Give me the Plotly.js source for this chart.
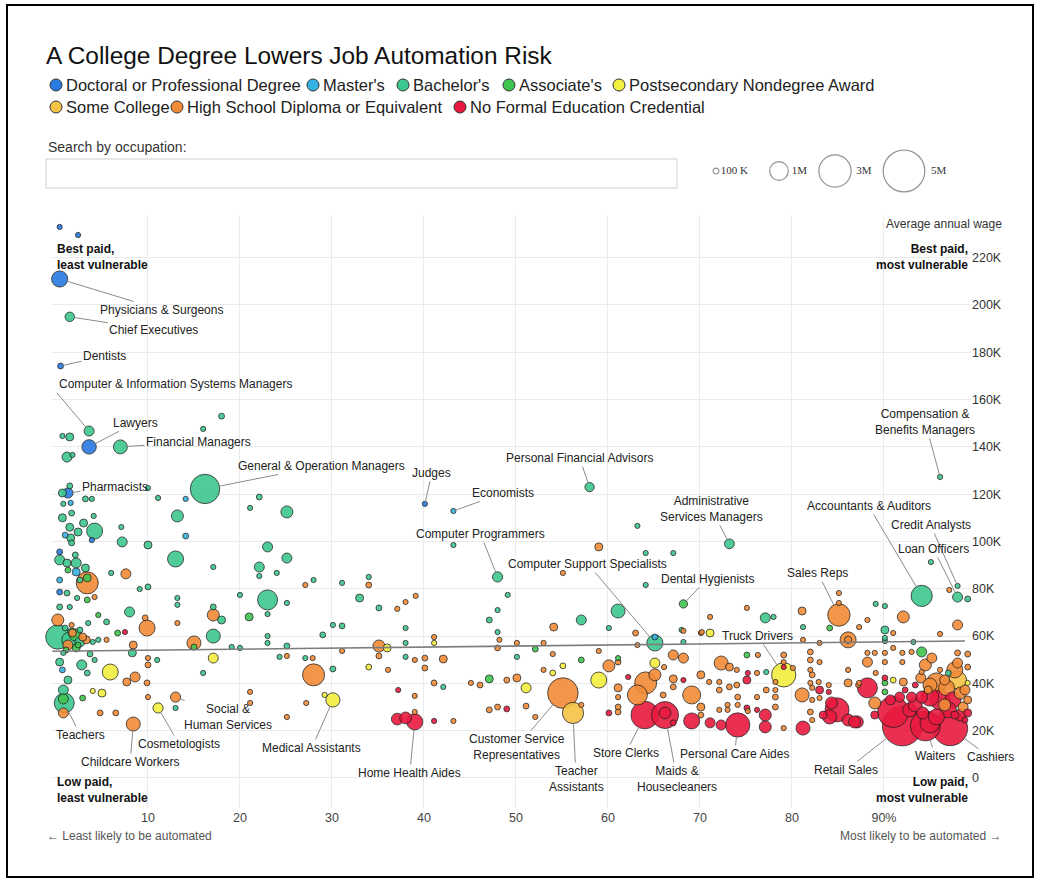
<!DOCTYPE html>
<html>
<head>
<meta charset="utf-8">
<script src="https://cdn.plot.ly/plotly-3.0.1.min.js"></script>
<style>
html,body{margin:0;padding:0;background:#fff;}
#chart{width:1047px;height:881px;}
</style>
</head>
<body>
<div id="chart"></div>
<script>
// ---------- education categories ----------
const eduLabels = ["Doctoral or Professional Degree", "Master's", "Bachelor's", "Associate's",
  "Postsecondary Nondegree Award", "Some College", "High School Diploma or Equivalent",
  "No Formal Education Credential"];
const eduColors = ['#2a7ae2', '#36b1e3', '#3ec78e', '#3fc54f', '#f3ef3f', '#f5c345', '#f28b37', '#e8193f'];

// ---------- unlabelled occupations (risk %, wage $K, employment K) ----------
const doctoralRisk = [0.4, 2.4, 3.9, 0.4, 0.4];
const doctoralWage = [233, 229.6, 100.6, 95.6, 78.6];
const doctoralEmp  = [20, 20, 46, 100, 100];

const mastersRisk = [1.6, 1.0, 2.2, 0.4, 0.7, 14.1, 14.1, 65.1];
const mastersWage = [116.3, 102.7, 87.1, 83.7, 45.7, 118, 102.3, 59.6];
const mastersEmp  = [25, 100, 185, 100, 100, 25, 100, 100];

const bachelorsRisk = [
  1.5,0.7,3.2,3.9,0.8,0.7,1.7,1.5,4.1,3.0, 4.2,1.6,2.4,1.7,0.4,1.2,2.1,2.2,3.2,2.6,
  1.2,2.3,0.4,1.5,5.5,3.5,0.2,1.5,2.6,1.7, 2.6,1.0,4.6,4.0,0.8,3.7,4.2,0.4,2.8,3.4, 1.3,0.8,
  18,16,0.7,1.5,1.2,1.8,
  10,11.1,22.1,21.1,25.1,13.2,7.1,7.2,10,23, 13,25.1,22.1,22.1,17.1,24,6.0,9.1,10,13.2,
  13.2,17.1,23,23,20,25.1,8.0,18,17.1,19.1, 20,23,23,25.1,29,8.3,11,16,24.3,30.1, 27.1,13,
  63.2,43.2,64.1,67.1,64.1,28,31.1,34,33,35.1, 30.1,31.1,38,47.1,48,48,49.1,57.1,61.1,60.1, 68.2,38,38,42.1,50.1,
  77.2,77.1,78,68,81.2,89.1,90.1,90.1,90.1,93.2, 90.1,99.1,95.1,97];
const bachelorsWage = [
  123.5,120.5,118,118,115.9,110,112,106,110.8,107.8, 104.4,101.5,104,99.4,92.2,90.9,94.3,90.9,88.8,83.7,
  78.2,76.1,72.3,72.3,66,65.5,59.6,58.4,57.5,61.7, 62.6,63.4,58.4,57.5,52.9,52.4,49.9,49,47.8,44.4, 41.4,37.2,
  153,147.6,144.6,144.2,135.7,136.6,
  122.6,118.4,118.8,114.2,112.5,110.8,106.1,99.8,98.5,97.7, 92.6,93,89.2,85.4,89.2,86.7,86.7,79.9,80.8,76.1,
  73.2,72.3,75.3,69.3,77.4,74,70.2,66.8,60,55.4, 55,57.1,60,55.8,60.5,52.9,49.9,44.4,51.2,46.1, 50.7,29.6,
  106.6,98.5,95.1,95.1,81.6,83.7,82.5,85,76.1,71.9, 64.7,64.3,63.4,66.8,71,61.7,77.4,66.8,70.6,63.4, 57.5,57.1,51.2,38.5,51.2,
  44.8,67.7,68.1,62.6,63.8,73.6,72.7,62.6,59.2,57.5, 57.9,75.7,91.3,44.4];
const bachelorsEmp = [
  100,185,100,46,25,185,100,185,25,185, 740,185,185,100,290,185,100,290,185,100,
  100,46,100,25,100,25,1700,740,289,185, 100,100,46,46,46,100,46,185,289,100, 185,289,
  100,46,25,185,289,25,
  25,25,100,25,416,416,25,289,185,289, 740,289,289,25,46,25,25,25,100,25,
  46,100,1156,25,25,25,289,185,567,46, 46,46,25,100,100,185,46,25,25,100, 46,25,
  25,25,25,25,25,25,25,25,185,100, 25,100,25,100,25,25,20,289,567,25, 30,46,46,25,25,
  25,289,25,25,46,46,25,185,25,46, 46,100,25,100];

const associatesRisk = [1.3,3.4,3.4,4.6,2.1,2.2,2.4,1.1,2.9,0.8, 21,6.7,15, 47.1,52.1,57.1, 61.1,75.1,84.1,94.1,90.1,90.1];
const associatesWage = [87.9,84.6,75.3,68.9,60.5,55,56.2,54.1,33.8,33.4, 68.1,61.3,55.4, 41.9,54.5,49.9, 50.7,52,63.4,53.3,40.2,36.4];
const associatesEmp  = [100,185,100,25,416,185,100,100,100,289, 185,100,100, 185,100,100, 25,100,100,289,100,100];

const postsecRisk = [5.0,4.0,5.9,17.1,29.2,36,41.1,34,51.1,55.1,54,59,65.1,71.1,91,99.1];
const postsecWage = [35.9,36.8,44.8,50.7,35.1,55,57.1,46.9,38.1,47.4,44.4,41.4,48.6,61.3,41.4,40.2];
const postsecEmp  = [185,25,740,289,25,185,46,100,289,100,100,740,289,185,100,25];

const someCollegeRisk = [98];
const someCollegeWage = [41.4];
const someCollegeEmp  = [936];

const highSchoolRisk = [
  3.4,4.2,0.2,1.7,1.3,3.3,1.8,2.9,5.5,0.8,4.8,6.5,
  7.6,9.7,9.9,13.2,17.1,8.4,15,7.7,8.6,9.9,10,10,25.1,28,27.9,10,21.1,21.1,25.1,27.2,
  59,55.1,27.1,34,37.1,38,39.1,41.1,54.1,63, 68.2,35.1,35.1,31.1,40.1,42.1,39,36.1,40.1,41.1,
  39,39,43.2,45.1,46.1,49,50.1,48,53,50.1, 48.2,54,53,57.1,47.1,48,51.1,52.1,
  60.1,61.1,59,61.1,61.1,61.1,61.1,64.1,63.2,65.1, 66.1,67.1,68.2,67.1,67.1,66,69.1,63.2,70.1,76.3,
  72.3,73.2,70.1,71,72.1,72.1,74,74,76.2,79.1, 79.1,77.2,78.2,78.2,76.2,78.2,74.1,74.1,73,70.1,
  70.1,72.1,73,75.2,78.2,80.1,81.1,82,82,82, 82,83,82.9,83,84,82,82.2,86.1,86.1,79.1,
  73.2,75.1,71.1,70.2,83,81.2,81.1,85.1,85.1,87.3, 88.2,92.1,91,96.1,98,97.1,95.2,93,91,88.2,
  88.2,89,90.1,90.1,92,92,98,99.1,98,99.1, 96.1,86.1,86.1,87.2,92.1,94,94.1,95.7,96.8,98.3,
  98.6,99.1,89,82.2,82.2,82.2,87.3,89.1,94.8,96.6, 97.7,95,96.6,94.5,98.8];
const highSchoolWage = [
  82.5,76.5,66.8,64.7,56.2,58.4,61.3,59.6,58.4,27.5,27.5,27.5,
  86.3,67.7,63.4,65.5,68.9,56.2,57.1,40.6,42.7,40.2,47.8,50.7,51.6,43.6,50.7,34.2,36.4,31.7,25.8,31.7,
  97.7,86.7,81.6,81.6,71.5,74.4,77,59.6,63.8,61.3, 62.2,55.8,51.6,53.7,50.7,50.3,49.9,45.7,46.5,40.2,
  34.7,27.9,24.1,40.2,39.3,41.4,42.3,55,57.1,57.1, 58.4,52.4,45.7,30.9,28.8,30,30.4,25.8,
  47.4,49,53.7,38.1,34.2,30,27.9,40.2,35.1,43.6, 46.9,52,50.7,41.9,38.5,35.1,35.1,56.2,61.3,52,
  48.6,46.9,43.6,40.6,40.6,37.2,45.7,39.3,44.4,52, 49,37.2,37.2,40.6,34.2,34.2,30.9,34.2,30.9,30,
  26.6,28.8,28.8,28.3,30,46.5,35.1,40.2,45.7,49.9, 53.3,49,40.6,33.8,39.3,27.9,24.5,58.4,58.4,21.1,
  38.5,71.9,68.1,61.7,57.1,58.4,70.6,74,78.2,63.8, 66.8,68.1,61.3,60.9,64.7,79.5,50.7,53.3,55,49,
  52.9,52.9,52.9,49,52.9,49,52.9,52.4,48.6,46.9, 45.7,45.7,40.2,39.3,40.6,42.3,44.8,40.2,38.1,35.9,
  30,33,31.7,43.6,38.1,33,40.2,44.4,37.2,41.4, 45.7,39.3,30.9,47.8,37.2];
const highSchoolEmp = [
  1400,25,416,25,289,185,185,185,46,289,100,100,
  289,100,740,25,416,185,567,185,289,100,100,25,25,1400,25,25,25,25,25,25,
  185,25,25,100,46,25,25,25,185,100, 25,416,100,25,100,185,25,25,100,100,
  25,25,25,25,100,100,185,100,25,25, 25,25,25,25,100,100,100,25,
  416,100,25,185,25,100,100,1400,1156,416, 25,289,289,185,100,100,936,25,25,25,
  567,185,185,25,25,100,25,100,25,100, 46,100,25,25,25,100,25,100,25,185,
  100,25,25,25,100,25,567,25,25,100, 100,25,25,25,25,100,25,740,150,25,
  100,25,25,25,46,25,185,25,25,25, 25,416,25,25,289,25,289,25,25,289,
  25,25,25,25,25,25,100,100,289,100, 25,25,185,25,185,289,25,1156,740,416,
  289,185,416,100,46,46,25,25,185,289, 740,567,416,416,289];

const noFormalRisk = [7.5, 37.2,41.1,49,37.1,38.0,
  62.2,60.1,68.2,67.1,69.1,66.2,75.1,75.2,79.1,76.2, 83,84,84.9,84.3,83.4,84.1,86.1,87.1,81.2,77.1, 77.1,75.1,72.3,71.1,
  88.2,90.1,95,96.1,97.5,97,94.1,93,91.7,92.8, 94.2,99.1,89,86.8,95,95.7,92.3,93.4,97.7,98.8, 91, 93.4,98.3,90.7];
const noFormalWage = [61.7, 37.2,24.1,29.2,24.9,25.4,
  42.7,27.5,41.4,23.3,24.1,27.5,41.4,44.4,46.9,28.8, 37.2,36.4,28.8,31.7,26.6,25.8,24.5,23.7,21.1,21.6, 26.6,29.6,22.4,23.3,
  38.1,42.3,34.2,33,33,28.8,34.2,34.2,34.2,28.8, 27.5,27.5,26.6,23.7,23.3,25.8,37.2,39.3,26.6,24.5, 27.9, 30.9,26.6,33];
const noFormalEmp = [30, 25,25,100,400,400,
  30,100,25,100,740,400,185,25,30,25, 185,25,1665,416,185,567,416,416,567,416, 416,100,289,289,
  1156,100,936,1156,740,740,416,289,289,567, 416,185,185,416,1156,740,100,100,185,100, 2800, 567,416,289];

// ---------- labelled occupations ----------
const labOcc = ["Physicians & Surgeons", "Chief Executives", "Dentists", "Computer & Information Systems Managers",
  "Lawyers", "Financial Managers", "Pharmacists", "General & Operation Managers", "Judges", "Economists",
  "Personal Financial Advisors", "Computer Programmers", "Computer Support Specialists",
  "Administrative<br>Services Managers", "Dental Hygienists", "Sales Reps", "Truck Drivers",
  "Accountants & Auditors", "Credit Analysts", "Loan Officers", "Compensation &<br>Benefits Managers",
  "Teachers", "Childcare Workers", "Cosmetologists", "Social &<br>Human Services", "Medical Assistants",
  "Home Health Aides", "Customer Service<br>Representatives", "Teacher<br>Assistants", "Store Clerks",
  "Maids &<br>Housecleaners", "Personal Care Aides", "Retail Sales", "Waiters", "Cashiers"];
const labRisk = [0.4, 1.5, 0.5, 3.6, 3.6, 7.0, 1.3, 16.2, 40.1, 43.2, 58.0, 48.0, 65.1, 73.2, 68.2, 85.1, 79.1,
  94.1, 98.0, 98.0, 96.1, 0.9, 8.4, 11.1, 13.0, 30.1, 39.0, 55.1, 56.2, 64.0, 66.2, 74.1, 92.0, 94.5, 97.2];
const labWage = [211, 195, 174.2, 146.7, 140, 140, 120.5, 122.2, 115.9, 112.9, 123, 85, 57.1, 99, 73.6, 68.9, 43.6,
  77, 81.2, 76.5, 127.3, 31.7, 22.8, 29.6, 34.2, 33, 23.7, 35.9, 27.5, 26.6, 26.6, 22.4, 22, 22, 21];
const labEmp = [750, 260, 100, 290, 600, 560, 300, 2500, 25, 20, 250, 300, 750, 280, 200, 1450, 1700,
  1300, 75, 290, 20, 1150, 570, 300, 300, 580, 750, 2700, 1300, 2200, 2100, 1700, 4600, 2600, 3500];
const labEdu = [0, 2, 0, 2, 0, 2, 0, 2, 0, 1, 2, 2, 2, 2, 3, 6, 4, 2, 2, 2, 2, 2, 6, 4, 6, 4, 7, 6, 5, 7, 7, 7, 7, 7, 7];

// ---------- axis tick labels ----------
const xTickVals = [10, 20, 30, 40, 50, 60, 70, 80, 90];
const xTickText = ['10', '20', '30', '40', '50', '60', '70', '80', '90%'];
const yTickVals = [0, 20, 40, 60, 80, 100, 120, 140, 160, 180, 200, 220];
const yTickText = ['0', '20K', '40K', '60K', '80K', '100K', '120K', '140K', '160K', '180K', '200K', '220K'];

// ---------- trend line ----------
const trendRisk = [-0.4, 98.8];
const trendWage = [53.6, 57.9];

// ---------- bubble size key ----------
const sizeKeyEmp = [100, 1000, 3000, 5000];
const sizeKeyText = ['100 K', '1M', '3M', '5M'];

// =================== layout helpers (positions only) ===================
const L = 51, T = 10, W = 920, H = 798;
const PX = p => (p - L) / W;
const PY = p => (T + H - p) / H;
const SIZEREF = 5.78;
const radiusOf = v => Math.sqrt(v / 2 / SIZEREF);

// label text offsets in pixels and anchors
const labDX = [102, 84, 44, -32, 46, 78, 47, 116, 7, 50, -10, -17, -67, -18, 24, -21, -26, -53, -27, -24, -15,
  16, -3, 21, 52, -21, -5, -46, 3, -19, 12, -3, -56, 10, 40];
const labDY = [31, 13, -10, -38, -24, -5, -6, -23, -31, -18, -29, -43, -79, -35, -25, -42, -39, -90, -61, -48, -55,
  32, 38, 36, 20, 48, 51, 54, 66, 38, 64, 29, 44, 30, 29];

// merge all points, largest drawn first
const groups = [
  [doctoralRisk, doctoralWage, doctoralEmp, 0],
  [mastersRisk, mastersWage, mastersEmp, 1],
  [bachelorsRisk, bachelorsWage, bachelorsEmp, 2],
  [associatesRisk, associatesWage, associatesEmp, 3],
  [postsecRisk, postsecWage, postsecEmp, 4],
  [someCollegeRisk, someCollegeWage, someCollegeEmp, 5],
  [highSchoolRisk, highSchoolWage, highSchoolEmp, 6],
  [noFormalRisk, noFormalWage, noFormalEmp, 7]
];
const pts = [];
groups.forEach(g => g[0].forEach((r, i) => pts.push({x: r, y: g[1][i], s: g[2][i], e: g[3], n: ''})));
labOcc.forEach((n, i) => pts.push({x: labRisk[i], y: labWage[i], s: labEmp[i], e: labEdu[i], n: n.replace('<br>', ' ')}));
pts.sort((a, b) => b.s - a.s);

const traces = [];
traces.push({
  type: 'scatter', mode: 'markers', name: 'Occupations',
  x: pts.map(p => p.x), y: pts.map(p => p.y),
  text: pts.map(p => p.n + (p.n ? '<br>' : '') + eduLabels[p.e]),
  hoverinfo: 'text+x+y',
  cliponaxis: false,
  marker: {
    size: pts.map(p => p.s), sizemode: 'area', sizeref: SIZEREF, sizemin: 2.6,
    color: pts.map(p => eduColors[p.e]), opacity: 0.9,
    line: {color: 'rgba(30,30,30,0.85)', width: 1}
  }
});
traces.push({
  type: 'scatter', mode: 'lines', x: trendRisk, y: trendWage, hoverinfo: 'skip',
  line: {color: '#7d7d7d', width: 1.6}, cliponaxis: false
});

// category key (legend) markers on a pixel-mapped overlay axis
const keyX = [56, 313, 403, 509, 619, 56, 177, 460];
const keyY = [85, 85, 85, 85, 85, 107, 107, 107];
traces.push({
  type: 'scatter', mode: 'markers', xaxis: 'x2', yaxis: 'y2', x: keyX, y: keyY, hoverinfo: 'skip',
  cliponaxis: false,
  marker: {size: 12, color: eduColors, line: {color: '#333', width: 1}}
});
// size key
traces.push({
  type: 'scatter', mode: 'markers+text', xaxis: 'x2', yaxis: 'y2',
  x: [716, 779, 835, 904], y: [171, 171, 171, 171], hoverinfo: 'skip', cliponaxis: false,
  text: sizeKeyText, textposition: 'middle right',
  textfont: {family: 'Liberation Serif, DejaVu Serif, serif', size: 11, color: '#333'},
  marker: {size: sizeKeyEmp, sizemode: 'area', sizeref: SIZEREF, color: '#ffffff', line: {color: '#666', width: 1.2}}
});

const annotations = [];
// legend texts
eduLabels.forEach((t, i) => annotations.push({
  xref: 'paper', yref: 'paper', x: PX(keyX[i] + 8), y: PY(keyY[i]), xanchor: 'left', yanchor: 'middle',
  text: t, showarrow: false, font: {size: 16.5, color: '#222'}
}));
// occupation labels
labOcc.forEach((n, i) => {
  const a = {
    x: labRisk[i], y: labWage[i], xref: 'x', yref: 'y', text: n, showarrow: true,
    arrowhead: 0, arrowwidth: 1, arrowcolor: '#8c8c8c', ax: labDX[i], ay: labDY[i], standoff: radiusOf(labEmp[i]),
    font: {size: 12, color: '#222'}, align: 'center'
  };
  if (i === 3) { a.xanchor = 'left'; a.yanchor = 'bottom'; }
  annotations.push(a);
});
// corner notes and misc text
const bold = {size: 12, color: '#111'};
annotations.push({xref: 'paper', yref: 'paper', x: PX(55), y: PY(257), xanchor: 'left', yanchor: 'middle', align: 'left', showarrow: false, text: '<b>Best paid,<br>least vulnerable</b>', font: bold});
annotations.push({xref: 'paper', yref: 'paper', x: PX(970), y: PY(257), xanchor: 'right', yanchor: 'middle', align: 'right', showarrow: false, text: '<b>Best paid,<br>most vulnerable</b>', font: bold});
annotations.push({xref: 'paper', yref: 'paper', x: PX(55), y: PY(790), xanchor: 'left', yanchor: 'middle', align: 'left', showarrow: false, text: '<b>Low paid,<br>least vulnerable</b>', font: bold});
annotations.push({xref: 'paper', yref: 'paper', x: PX(970), y: PY(790), xanchor: 'right', yanchor: 'middle', align: 'right', showarrow: false, text: '<b>Low paid,<br>most vulnerable</b>', font: bold});
annotations.push({xref: 'paper', yref: 'paper', x: PX(1004), y: PY(224), xanchor: 'right', yanchor: 'middle', showarrow: false, text: 'Average annual wage', font: {size: 12, color: '#333'}});
annotations.push({xref: 'paper', yref: 'paper', x: PX(45), y: PY(836), xanchor: 'left', yanchor: 'middle', showarrow: false, text: '\u2190 Least likely to be automated', font: {size: 12, color: '#555'}});
annotations.push({xref: 'paper', yref: 'paper', x: PX(1003), y: PY(836), xanchor: 'right', yanchor: 'middle', showarrow: false, text: 'Most likely to be automated \u2192', font: {size: 12, color: '#555'}});
annotations.push({xref: 'paper', yref: 'paper', x: PX(46), y: PY(147), xanchor: 'left', yanchor: 'middle', showarrow: false, text: 'Search by occupation:', font: {size: 14, color: '#333'}});

const shapes = [
  {type: 'rect', xref: 'paper', yref: 'paper', x0: PX(46), x1: PX(677), y0: PY(188), y1: PY(159), line: {color: '#cfcfcf', width: 1}, fillcolor: 'rgba(0,0,0,0)'},
  {type: 'rect', xref: 'paper', yref: 'paper', x0: PX(7), x1: PX(1033), y0: PY(877), y1: PY(5), line: {color: '#000', width: 2}, fillcolor: 'rgba(0,0,0,0)'}
];

const layout = {
  width: 1047, height: 881,
  margin: {l: L, r: 1047 - L - W, t: T, b: 881 - T - H, pad: 0},
  paper_bgcolor: '#fff', plot_bgcolor: '#fff',
  font: {family: 'Liberation Sans, Arial, Helvetica, sans-serif', color: '#333', size: 12},
  title: {text: 'A College Degree Lowers Job Automation Risk', xref: 'container', yref: 'container',
    x: 46 / 1047, xanchor: 'left', y: 1 - 55 / 881, yanchor: 'middle', font: {size: 24.4, color: '#111'}},
  showlegend: false,
  hovermode: 'closest',
  xaxis: {domain: [0, 1], anchor: 'y', range: [-0.54, 99.46], tickvals: xTickVals, ticktext: xTickText,
    showgrid: true, gridcolor: '#ebebeb', gridwidth: 1, zeroline: false, showline: false, ticks: '',
    tickfont: {size: 12.5, color: '#444'}, fixedrange: true},
  yaxis: {domain: [0, PY(215)], anchor: 'x', side: 'right', range: [-12.7, 238.05], tickvals: yTickVals, ticktext: yTickText,
    showgrid: true, gridcolor: '#ebebeb', gridwidth: 1, zeroline: false, showline: false, ticks: '',
    tickfont: {size: 12.5, color: '#333'}, fixedrange: true},
  xaxis2: {domain: [0, 1], anchor: 'y2', range: [L, L + W], visible: false, fixedrange: true},
  yaxis2: {domain: [PY(200), 1], anchor: 'x2', range: [200, T], visible: false, fixedrange: true},
  annotations: annotations,
  shapes: shapes
};

Plotly.newPlot('chart', traces, layout, {displayModeBar: false});
</script>
</body>
</html>
